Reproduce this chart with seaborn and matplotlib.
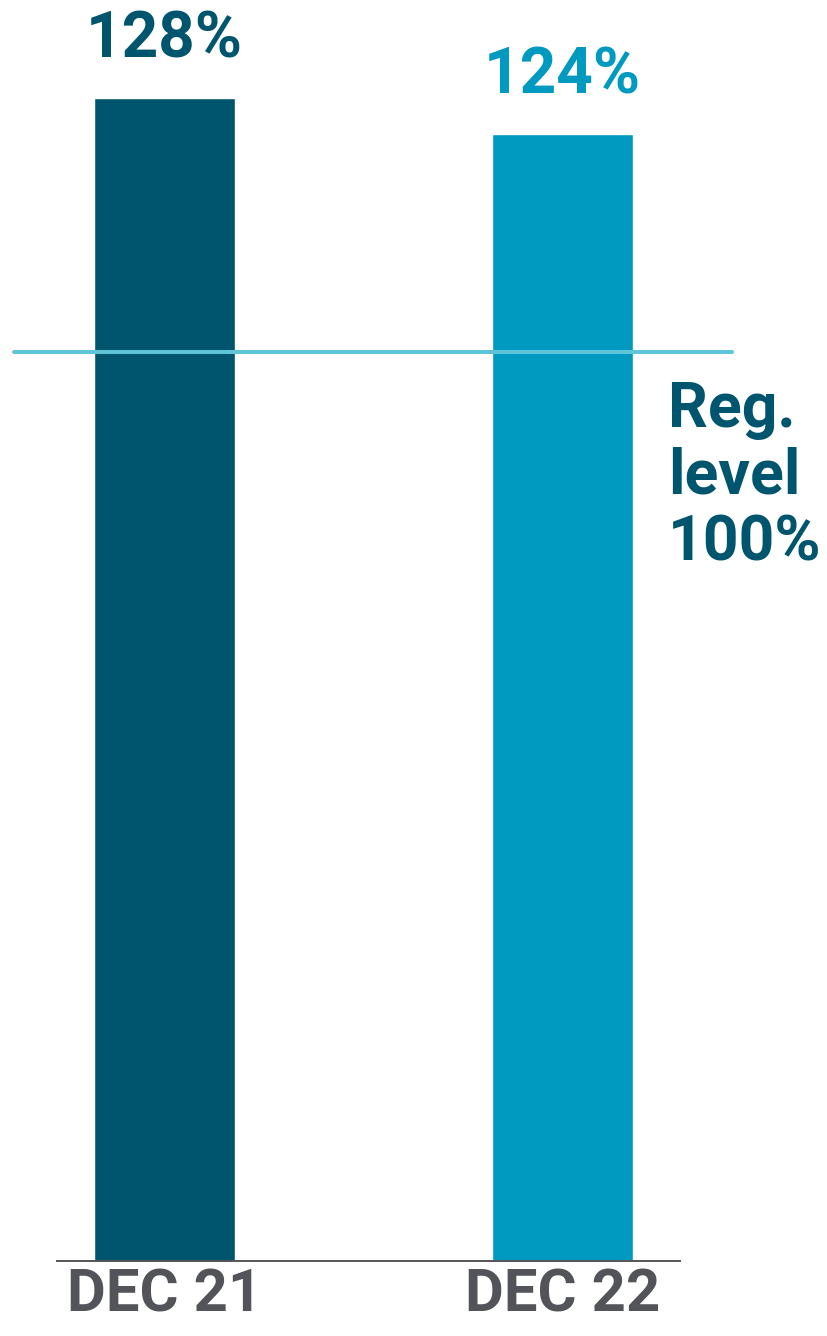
import seaborn as sns
import matplotlib.pyplot as plt
import pandas as pd

# chart values
periods = ["DEC 21", "DEC 22"]
ratios = [128, 124]
value_labels = ["128%", "124%"]
reg_level = 100
reg_label = "Reg.\nlevel\n100%"

dark_teal = "#00556e"
light_teal = "#009ac0"
line_blue = "#5ec5d9"
gray = "#525459"

sns.set_theme(style="white")
plt.rcParams["font.family"] = ["Roboto", "DejaVu Sans"]

df = pd.DataFrame({"period": periods, "ratio": ratios})

fig = plt.figure(figsize=(8.28, 13.36), dpi=100)
ax = fig.add_axes([57 / 828, 1 - 1261 / 1336, 623 / 828, 1163 / 1336])

sns.barplot(data=df, x="period", y="ratio", hue="period",
            palette=[dark_teal, light_teal], width=0.354,
            saturation=1, legend=False, ax=ax)

ax.set_xlim(-0.2701, 1.2952)
ax.set_ylim(0, 128)

# regulatory level line, running past the axes on both sides
ax.axhline(reg_level, xmin=-0.069, xmax=1.0835, color=line_blue,
           lw=2.9, clip_on=False, zorder=3)
ax.text(0.981, reg_level - 3.0, reg_label, transform=ax.get_yaxis_transform(),
        ha="left", va="top", fontsize=45, fontweight="bold",
        color=dark_teal, linespacing=1.15)

# value labels above bars
for i, (v, lab) in enumerate(zip(ratios, value_labels)):
    ax.annotate(lab, xy=(i, v), xytext=(0, 20), textcoords="offset points",
                ha="center", va="bottom", fontsize=46, fontweight="bold",
                color=[dark_teal, light_teal][i])

sns.despine(ax=ax, left=True)
ax.spines["bottom"].set_color("#555555")
ax.spines["bottom"].set_linewidth(1.4)
ax.set_yticks([])
ax.set_xlabel("")
ax.set_ylabel("")
ax.tick_params(axis="x", length=0, pad=5, labelsize=43, colors=gray)
for t in ax.get_xticklabels():
    t.set_fontweight("bold")

fig.savefig("out.png", dpi=100)
